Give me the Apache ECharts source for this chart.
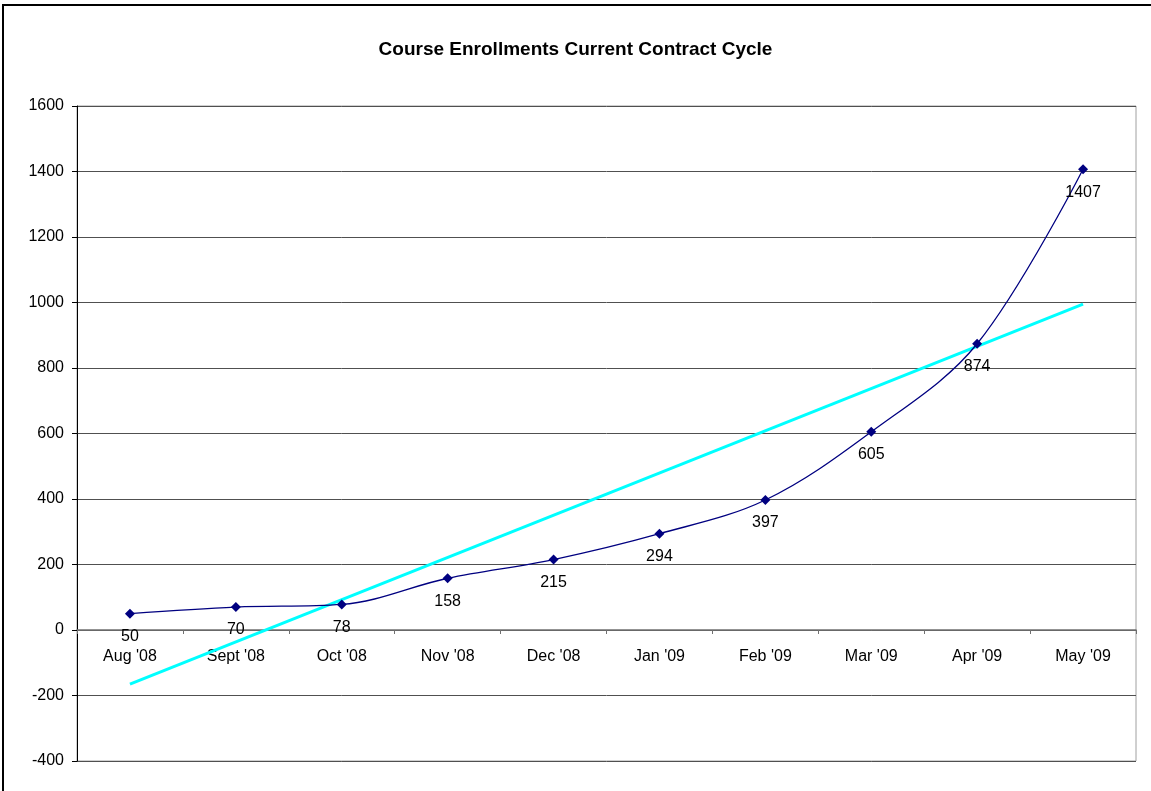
<!DOCTYPE html>
<html>
<head>
<meta charset="utf-8">
<title>Course Enrollments Current Contract Cycle</title>
<script src="https://cdn.jsdelivr.net/npm/echarts@6/dist/echarts.min.js"></script>
<style>
  html, body { margin: 0; padding: 0; background: #ffffff; }
  #chart { width: 1151px; height: 791px; }
</style>
</head>
<body>
<div id="chart"></div>
<script>
// Monthly course enrollments over the contract cycle
const months = ["Aug '08", "Sept '08", "Oct '08", "Nov '08", "Dec '08", "Jan '09", "Feb '09", "Mar '09", "Apr '09", "May '09"];
const enrollments = [50, 70, 78, 158, 215, 294, 397, 605, 874, 1407];
// Linear trend line: value at the first and last month, joined straight across
const trendEnds = [-165, 995];
const yTicks = { min: -400, max: 1600, step: 200 };

const trend = months.map(function (_, i) {
  if (i === 0) return trendEnds[0];
  if (i === months.length - 1) return trendEnds[1];
  return null;
});

const FONT = "'Liberation Sans', Arial, sans-serif";

// Plot box geometry; the category axis sits on the zero line
const GRID = { left: 77, right: 15, top: 106, bottom: 30 };
const plotH = 791 - GRID.top - GRID.bottom;
const zeroOffset = -Math.round(plotH * (0 - yTicks.min) / (yTicks.max - yTicks.min));

const chart = echarts.init(document.getElementById('chart'), null, { renderer: 'canvas' });
chart.setOption({
  backgroundColor: '#ffffff',
  animation: false,
  textStyle: { fontFamily: FONT },
  title: {
    text: 'Course Enrollments Current Contract Cycle',
    left: 'center',
    top: 35,
    textStyle: { fontFamily: FONT, fontSize: 19, fontWeight: 'bold', color: '#000000' }
  },
  graphic: [{
    type: 'rect',
    shape: { x: 3, y: 5, width: 1170, height: 820 },
    style: { fill: null, stroke: '#000000', lineWidth: 2 },
    silent: true,
    z: 100
  }],
  grid: {
    left: GRID.left, right: GRID.right, top: GRID.top, bottom: GRID.bottom,
    show: true, borderColor: '#a0a0a0', borderWidth: 1
  },
  xAxis: {
    type: 'category',
    data: months,
    boundaryGap: true,
    position: 'bottom',
    offset: zeroOffset,
    axisLine: { onZero: false, lineStyle: { color: '#707070', width: 1.5 } },
    axisTick: { show: true, length: 4, lineStyle: { color: '#707070' } },
    axisLabel: { color: '#000000', fontSize: 16, fontFamily: FONT, margin: 19, interval: 0 },
    splitLine: { show: false }
  },
  yAxis: {
    type: 'value',
    min: yTicks.min,
    max: yTicks.max,
    interval: yTicks.step,
    axisLine: { show: true, lineStyle: { color: '#000000', width: 1 } },
    axisTick: { show: true, length: 5, lineStyle: { color: '#000000' } },
    axisLabel: {
      color: '#000000', fontSize: 16, fontFamily: FONT, margin: 13,
      formatter: function (v) { return String(v); }
    },
    splitLine: { show: true, lineStyle: { color: '#505050', width: 1 } }
  },
  series: [
    {
      name: 'Enrollments',
      type: 'line',
      data: enrollments,
      smooth: 0.35,
      symbol: 'diamond',
      symbolSize: 10,
      lineStyle: { color: '#000080', width: 1.3 },
      itemStyle: { color: '#000080' },
      label: {
        show: true,
        position: 'bottom',
        distance: 10,
        color: '#000000',
        fontSize: 16,
        fontFamily: FONT
      },
      z: 3
    },
    {
      name: 'Linear trend',
      type: 'line',
      data: trend,
      connectNulls: true,
      showSymbol: false,
      symbol: 'none',
      lineStyle: { color: '#00FFFF', width: 3 },
      silent: true,
      z: 2
    }
  ]
});
</script>
</body>
</html>
